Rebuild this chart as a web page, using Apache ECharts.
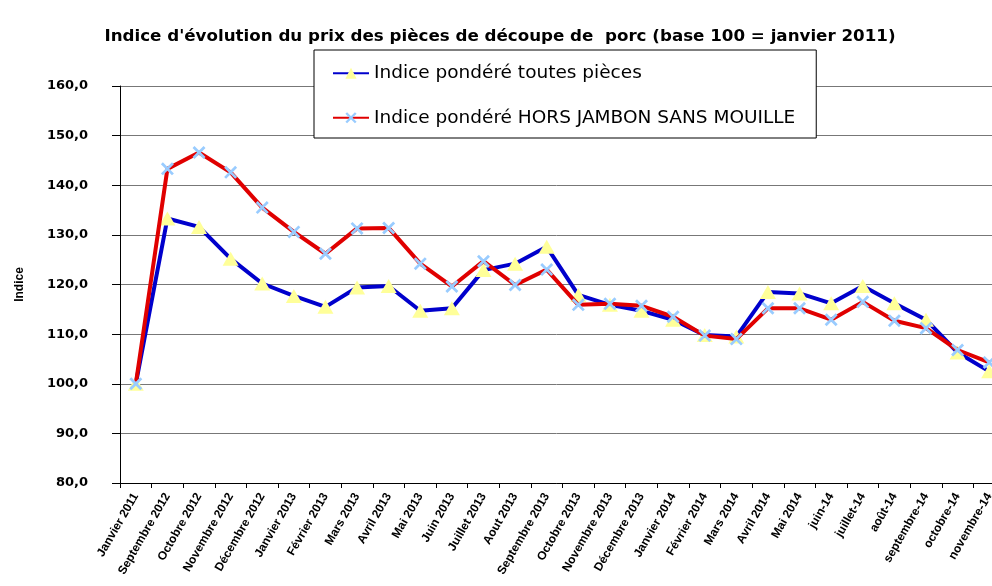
<!DOCTYPE html>
<html>
<head>
<meta charset="utf-8">
<script src="https://cdn.jsdelivr.net/npm/echarts@6/dist/echarts.min.js"></script>
<style>
html,body{margin:0;padding:0;background:#fff;}
#chart{width:992px;height:586px;}
</style>
</head>
<body>
<div id="chart"></div>
<script>
const categories = ["Janvier 2011","Septembre 2012","Octobre 2012","Novembre 2012","Décembre 2012","Janvier 2013","Février 2013","Mars 2013","Avril 2013","Mai 2013","Juin 2013","Juillet 2013","Aout 2013","Septembre 2013","Octobre 2013","Novembre 2013","Décembre 2013","Janvier 2014","Février 2014","Mars 2014","Avril 2014","Mai 2014","juin-14","juillet-14","août-14","septembre-14","octobre-14","novembre-14"];
const toutesPieces = [100, 133.3, 131.6, 125.2, 120.2, 117.7, 115.5, 119.4, 119.7, 114.7, 115.2, 122.9, 124.2, 127.6, 117.9, 115.9, 114.7, 112.9, 109.8, 109.5, 118.5, 118.2, 116.2, 119.7, 116.2, 112.9, 106.3, 102.5];
const horsJambon = [100, 143.3, 146.6, 142.6, 135.5, 130.6, 126.2, 131.3, 131.4, 124.2, 119.6, 124.7, 119.9, 123.0, 115.9, 116.1, 115.7, 113.5, 109.7, 109.0, 115.2, 115.2, 112.9, 116.5, 112.7, 111.2, 106.8, 104.3];
const seriesNames = ["Indice pondéré toutes pièces", "Indice pondéré HORS JAMBON SANS MOUILLE"];
const titleText = "Indice d'évolution du prix des pièces de découpe de  porc (base 100 = janvier 2011)";

const crossPath = 'path://M0,1.5L1.5,0L10,8.5L8.5,10Z M8.5,0L10,1.5L1.5,10L0,8.5Z';
const ARIAL = 'Liberation Sans, Arial, sans-serif';
const WIDE = 'DejaVu Sans, Liberation Sans, sans-serif';

const chart = echarts.init(document.getElementById('chart'), null, {renderer: 'canvas'});
chart.setOption({
  backgroundColor: '#fff',
  animation: false,
  title: {
    text: titleText,
    left: 495, top: 23, textAlign: 'center',
    textStyle: {fontFamily: WIDE, fontWeight: 'bold', fontSize: 16.7, color: '#000'}
  },
  legend: {
    data: seriesNames,
    orient: 'vertical',
    left: 314, top: 50,
    padding: [13.75, 21, 10.75, 18],
    itemGap: 25.5,
    itemWidth: 36, itemHeight: 14,
    backgroundColor: '#fff',
    borderColor: '#000', borderWidth: 1,
    textStyle: {fontFamily: WIDE, fontSize: 18.5, color: '#000'}
  },
  grid: {left: 120, top: 86, bottom: 103, width: 885, outerBoundsMode: 'none', containLabel: false},
  xAxis: {
    type: 'category',
    data: categories,
    boundaryGap: true,
    axisLine: {lineStyle: {color: '#000', width: 1}},
    axisTick: {show: true, alignWithLabel: false, length: 5, lineStyle: {color: '#000'}},
    axisLabel: {
      interval: 0, rotate: 60, margin: 11,
      fontFamily: ARIAL, fontWeight: 'bold', fontSize: 12, color: '#000'
    },
    splitLine: {show: false}
  },
  yAxis: {
    type: 'value',
    min: 80, max: 160, interval: 10,
    name: 'Indice',
    nameLocation: 'middle',
    nameGap: 94,
    nameRotate: 90,
    nameTextStyle: {fontFamily: ARIAL, fontWeight: 'bold', fontSize: 12, color: '#000'},
    axisLine: {show: true, lineStyle: {color: '#000', width: 1}},
    axisTick: {show: true, length: 8, lineStyle: {color: '#000'}},
    axisLabel: {
      margin: 32,
      fontFamily: WIDE, fontWeight: 'bold', fontSize: 13, color: '#000',
      formatter: v => v.toFixed(1).replace('.', ',')
    },
    splitLine: {show: true, lineStyle: {color: '#777', width: 1}}
  },
  series: [
    {
      name: seriesNames[0],
      type: 'line',
      data: toutesPieces,
      z: 2,
      symbol: 'triangle',
      symbolSize: [16, 14],
      showAllSymbol: true,
      lineStyle: {color: '#0000CC', width: 4},
      itemStyle: {color: '#FFFF99', borderWidth: 0}
    },
    {
      name: seriesNames[1],
      type: 'line',
      data: horsJambon,
      z: 3,
      symbol: crossPath,
      symbolSize: 13,
      showAllSymbol: true,
      lineStyle: {color: '#E00000', width: 4},
      itemStyle: {color: '#99CCFF', borderWidth: 0}
    }
  ]
});
</script>
</body>
</html>
